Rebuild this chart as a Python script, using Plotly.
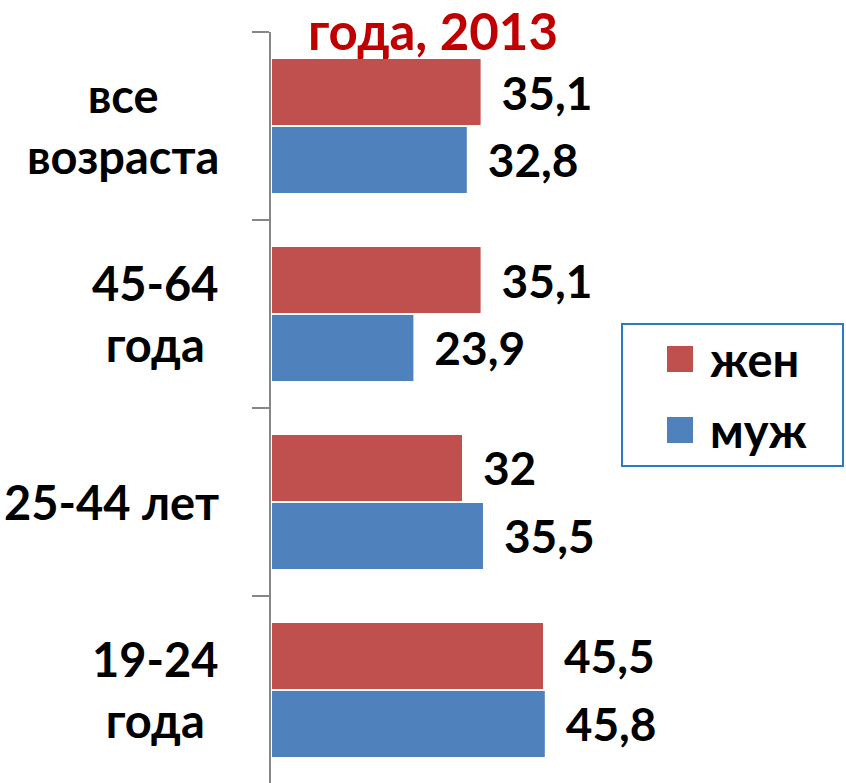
import plotly.graph_objects as go

categories = ["все возраста", "45-64 года", "25-44 лет", "19-24 года"]
cat_labels = ["все<br>возраста", "45-64<br>года", "25-44 лет", "19-24<br>года"]
women = [35.1, 35.1, 32, 45.5]
men = [32.8, 23.9, 35.5, 45.8]
series_names = ["жен", "муж"]
title_text = "года, 2013"

RED = "#C0504D"
BLUE = "#4F81BD"
FONT = "Lato"

def fmt(v):
    s = ("%g" % v).replace(".", ",")
    return "\u00a0\u2009" + s

W, H = 846, 783
L, T = 271, 32
PW = W - L
PH = H - T

def px_x(p):  # window pixel -> paper x
    return (p - L) / PW

def px_y(p):  # window pixel -> paper y
    return 1 - (p - T) / PH

fig = go.Figure()
for name, vals, col in [(series_names[0], women, RED), (series_names[1], men, BLUE)]:
    fig.add_trace(go.Bar(
        y=categories, x=vals, orientation="h", name=name,
        marker=dict(color=col, line=dict(color="white", width=2)),
        text=[fmt(v) for v in vals], textposition="outside", constraintext="none",
        textfont=dict(family=FONT, size=46, color="black", weight="bold"),
        cliponaxis=False, showlegend=False,
    ))

for cat, lab in zip(categories, cat_labels):
    fig.add_annotation(
        x=px_x(221), xref="paper", y=cat, yref="y",
        text=lab, showarrow=False, xanchor="right", yanchor="middle",
        align="center", font=dict(family=FONT, size=47, color="black", weight="bold"),
    )

fig.add_annotation(
    x=px_x(433), xref="paper", y=px_y(31), yref="paper",
    text=title_text, showarrow=False, xanchor="center", yanchor="middle",
    font=dict(family=FONT, size=51, color="#C00000", weight="bold"),
)

# legend box
fig.add_shape(type="rect", xref="paper", yref="paper",
              x0=px_x(622), x1=px_x(843), y0=px_y(324), y1=px_y(466),
              line=dict(color="#2A7AC4", width=2), fillcolor="white", layer="above")
for i, (name, col) in enumerate([(series_names[0], RED), (series_names[1], BLUE)]):
    cy = 359 + i * 71
    fig.add_shape(type="rect", xref="paper", yref="paper",
                  x0=px_x(667), x1=px_x(693), y0=px_y(cy - 13), y1=px_y(cy + 13),
                  line=dict(width=0), fillcolor=col, layer="above")
    fig.add_annotation(
        x=px_x(708), xref="paper", y=px_y(cy), yref="paper",
        text=name, showarrow=False, xanchor="left", yanchor="middle",
        font=dict(family=FONT, size=47, color="black", weight="bold"),
    )

fig.update_layout(
    width=W, height=H,
    margin=dict(l=L, r=0, t=T, b=0, pad=0),
    paper_bgcolor="white", plot_bgcolor="white",
    barmode="group", bargap=0.277, bargroupgap=0,
    showlegend=False,
    xaxis=dict(range=[0, PW / 6.0], visible=False, fixedrange=True, automargin=False),
    yaxis=dict(
        categoryorder="array", categoryarray=categories,
        range=[3.495, -0.5], showticklabels=False, automargin=False, fixedrange=True,
        showline=True, linecolor="#868686", linewidth=2,
        ticks="outside", tickson="boundaries", ticklen=17, tickcolor="#868686", tickwidth=2,
        showgrid=False, zeroline=False,
    ),
)

fig.write_html("out.html", config={"displayModeBar": False},
               post_script="document.body.style.margin='0';document.body.style.overflow='hidden';")
